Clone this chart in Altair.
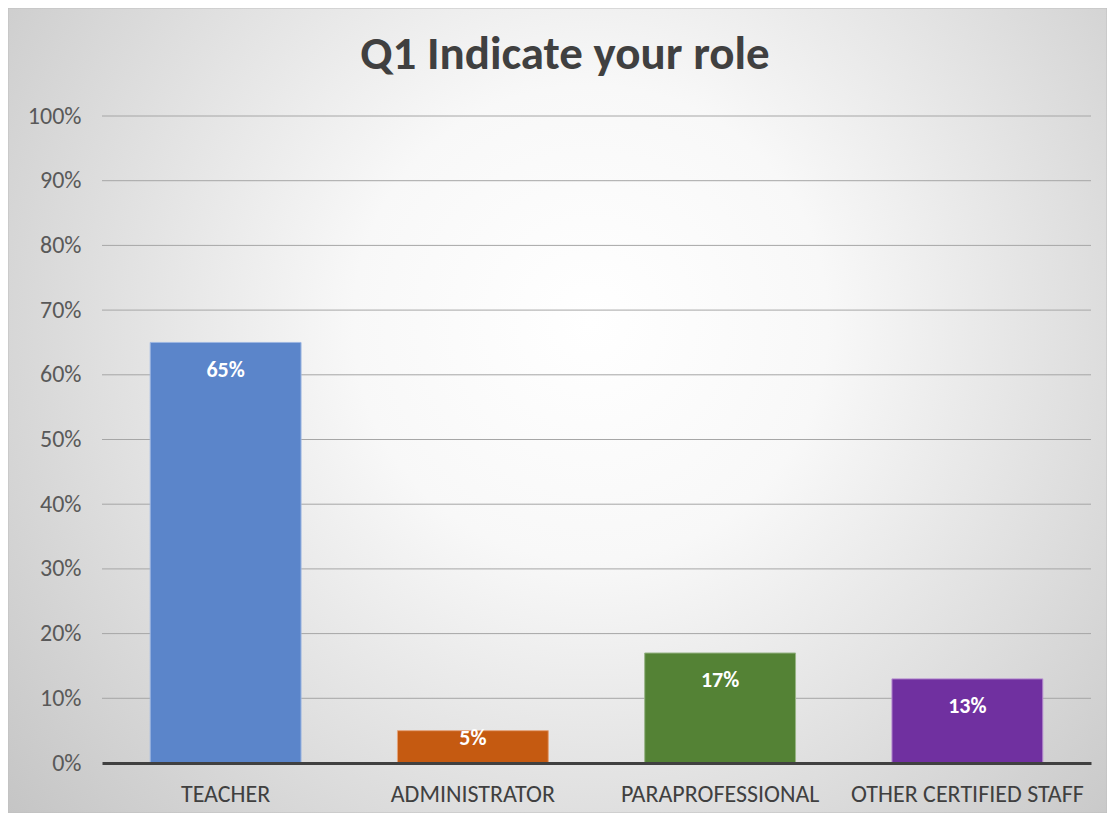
import altair as alt
import pandas as pd

categories = ["TEACHER", "ADMINISTRATOR", "PARAPROFESSIONAL", "OTHER CERTIFIED STAFF"]
values = [0.65, 0.05, 0.17, 0.13]
colors = ["#5B85CA", "#C55A11", "#548235", "#7030A0"]
strokes = ["#9DB6E2", "#E3A27A", "#97B486", "#B58ACF"]
labels = ["65%", "5%", "17%", "13%"]
ticks = [0.1, 0.2, 0.3, 0.4, 0.5, 0.6, 0.7, 0.8, 0.9, 1.0]
tick_labels = [0.0, 0.1, 0.2, 0.3, 0.4, 0.5, 0.6, 0.7, 0.8, 0.9, 1.0]
title_text = "Q1 Indicate your role"

df = pd.DataFrame({"cat": categories, "v": values, "lab": labels})
grid_df = pd.DataFrame({"v": ticks})

FONT = "Carlito, 'Liberation Sans Narrow', Lato, 'Open Sans', sans-serif"
W, H = 989, 647

bg = alt.Chart(pd.DataFrame({"a": [0]})).mark_rect(
    fill=alt.RadialGradient(
        gradient="radial",
        x1=0.53, y1=0.42, r1=0.0,
        x2=0.53, y2=0.42, r2=0.72,
        stops=[alt.GradientStop(offset=0, color="#ffffff"),
               alt.GradientStop(offset=0.3, color="#f8f8f8"),
               alt.GradientStop(offset=1, color="#c2c2c2")],
    ),
    stroke="#bfbfbf", strokeWidth=1,
).encode(x=alt.value(-94), x2=alt.value(W + 16), y=alt.value(-108), y2=alt.value(H + 50))

yscale = alt.Scale(domain=[0, 1], nice=False)
yaxis = alt.Axis(values=tick_labels, format=".0%", labelFont=FONT,
                 labelFontSize=24, labelColor="#595959", labelPadding=21, tickSize=0,
                 domain=False, grid=False, zindex=1)

grid = alt.Chart(grid_df).mark_rule(color="#a6a6a6", strokeWidth=1).encode(
    y=alt.Y("v:Q", scale=yscale, axis=yaxis, title=None),
    x=alt.value(0), x2=alt.value(W),
)

xenc = alt.X("cat:N", sort=categories, title=None,
             scale=alt.Scale(paddingInner=0.39, paddingOuter=0.195),
             axis=alt.Axis(labelAngle=0, labelFont=FONT, labelFontSize=24, labelColor="#404040",
                           labelPadding=19, tickSize=0, domainColor="#404040", domainWidth=3,
                           grid=False, zindex=1, labelLimit=0))
yenc = alt.Y("v:Q", title=None, scale=yscale, axis=yaxis)

bars = alt.Chart(df).mark_bar(strokeWidth=1).encode(
    x=xenc, y=yenc,
    fill=alt.Fill("cat:N", scale=alt.Scale(domain=categories, range=colors), legend=None),
    stroke=alt.Stroke("cat:N", scale=alt.Scale(domain=categories, range=strokes), legend=None),
)

text = alt.Chart(df).transform_calculate(
    lp="max(datum.v - 0.042, 0.038)"
).mark_text(font=FONT, fontSize=22, fontWeight="bold", color="white", baseline="middle").encode(
    x=alt.X("cat:N", sort=categories),
    y=alt.Y("lp:Q"),
    text="lab:N",
)

title = alt.Chart(pd.DataFrame({"t": [title_text]})).mark_text(
    font=FONT, fontSize=47, fontWeight="bold", color="#404040", baseline="middle", align="center"
).encode(text="t:N", x=alt.value(463), y=alt.value(-61))

chart = alt.layer(bg, grid, bars, text, title).properties(
    width=W, height=H,
    autosize=alt.AutoSizeParams(type="none"),
    padding={"left": 94, "top": 108, "right": 16, "bottom": 50},
).configure_view(stroke=None)

chart.save("out.html", embed_options={"renderer": "svg", "actions": False})
